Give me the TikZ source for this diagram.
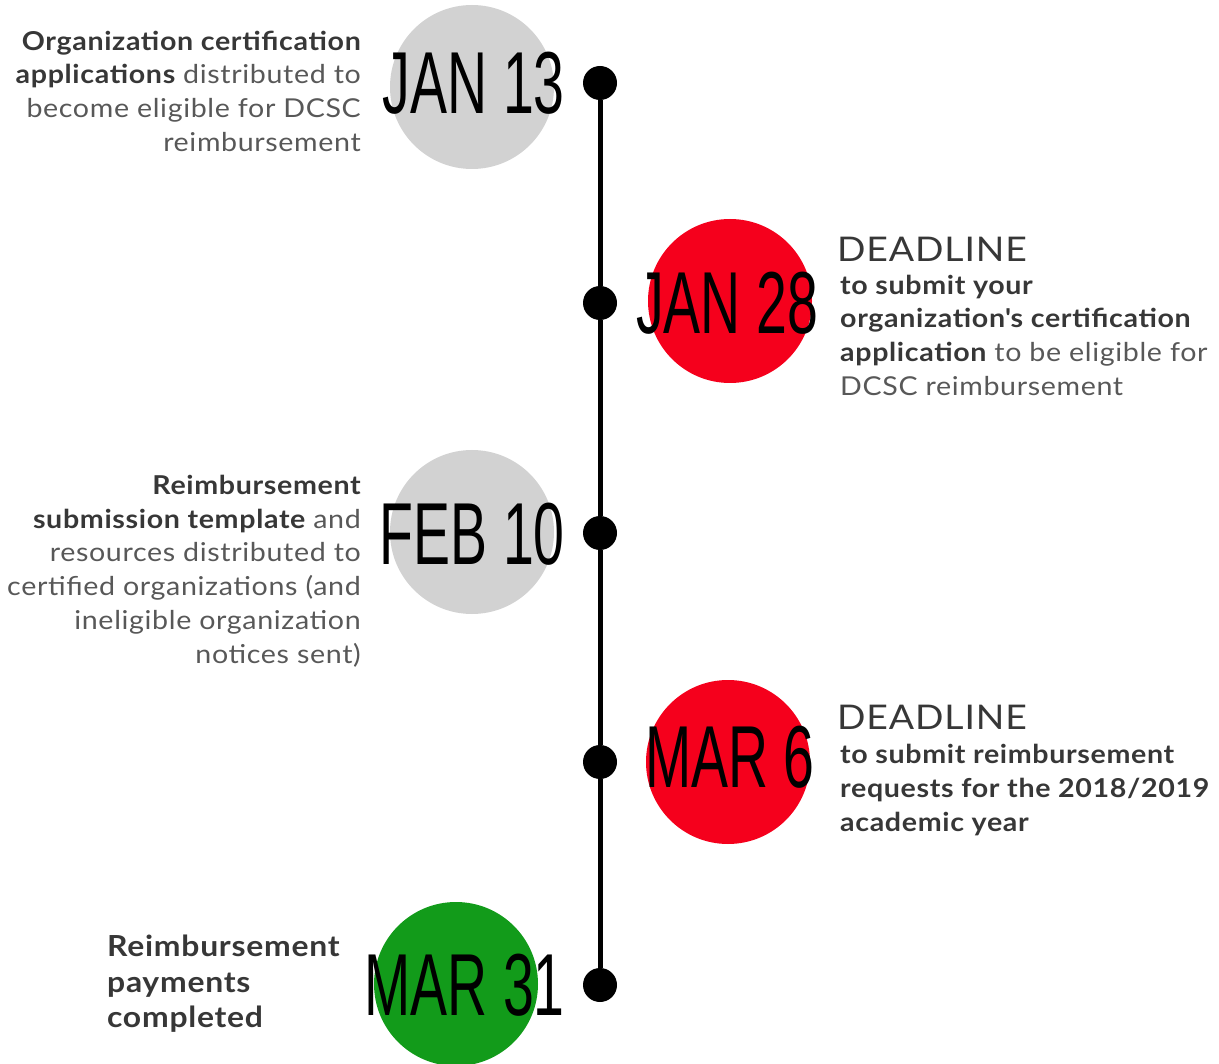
\documentclass[tikz,border=0pt]{standalone}
\usepackage{fontspec}
\setmainfont{Lato}[FakeStretch=1.1,LetterSpace=2.5]
\newfontfamily\datefont[FakeStretch=0.63]{Liberation Sans}
\usetikzlibrary{positioning}
\definecolor{discgray}{RGB}{210,210,210}
\definecolor{discred}{RGB}{245,0,28}
\definecolor{discgreen}{RGB}{18,155,26}
\definecolor{boldtext}{RGB}{55,55,55}
\definecolor{plaintext}{RGB}{88,88,88}
\newcommand\boldpart[1]{{\bfseries\color{boldtext}#1}}

\begin{document}
\begin{tikzpicture}[x=1pt,y=-1pt,
		disc/.style={circle,inner sep=0pt,minimum size=164pt},
		knot/.style={circle,fill=black,inner sep=0pt,minimum size=34pt},
		datelbl/.style={font=\datefont\fontsize{88}{88}\selectfont,inner sep=0pt},
		desc/.style={font=\fontsize{26}{33.7}\selectfont,text=plaintext,inner sep=0pt},
		deadline/.style={font=\fontsize{34}{34}\selectfont,text=boldtext,inner sep=0pt}]
		\useasboundingbox (0,0) rectangle (1219,1064);
		% discs behind the dates
		\node[disc,fill=discgray]  (c1) at (472,87) {};
		\node[disc,fill=discred]   (c2) at (730,301) {};
		\node[disc,fill=discgray]  (c3) at (472,532) {};
		\node[disc,fill=discred]   (c4) at (728,762) {};
		\node[disc,fill=discgreen] (c5) at (456,984) {};
		% time line
		\node[knot] (d1) at (600,83) {};
		\node[knot] (d2) at (600,303) {};
		\node[knot] (d3) at (600,533) {};
		\node[knot] (d4) at (600,762) {};
		\node[knot] (d5) at (600,985) {};
		\path[draw,line width=5pt]
		(d1) -- (d2) -- (d3) -- (d4) -- (d5);
		% dates
		\node[datelbl,anchor=east] (t1) at (565,83) {JAN 13};
		\node[datelbl,anchor=west] (t2) at (636,303) {JAN 28};
		\node[datelbl,anchor=east] (t3) at (565,534) {FEB 10};
		\node[datelbl,anchor=west] (t4) at (645,757) {MAR 6};
		\node[datelbl,anchor=east] (t5) at (565,985) {MAR 31};
		% descriptions
		\node[desc,align=right,anchor=east] (e1) at (361,91)
		{\boldpart{Organization certification}\\ \boldpart{applications} distributed to\\ become eligible for DCSC\\ reimbursement};
		\node[deadline,anchor=west] (h2) at (837,249) {DEADLINE};
		\node[desc,align=left,anchor=west] (e2) at (840,335)
		{\boldpart{to submit your}\\ \boldpart{organization\textquotesingle s certification}\\ \boldpart{application} to be eligible for\\ DCSC reimbursement};
		\node[desc,align=right,anchor=east] (e3) at (361,571)
		{\boldpart{Reimbursement}\\ \boldpart{submission template} and\\ resources distributed to\\ certified organizations (and\\ ineligible organization\\ notices sent)};
		\node[deadline,anchor=west] (h4) at (837,717) {DEADLINE};
		\node[desc,align=left,anchor=west] (e4) at (840,790)
		{\boldpart{to submit reimbursement}\\ \boldpart{requests for the 2018/2019}\\ \boldpart{academic year}};
		\node[desc,font=\fontsize{29}{35.5}\selectfont,align=left,anchor=west] (e5) at (107,984)
		{\boldpart{Reimbursement}\\ \boldpart{payments}\\ \boldpart{completed}};
	\end{tikzpicture}
\end{document}
